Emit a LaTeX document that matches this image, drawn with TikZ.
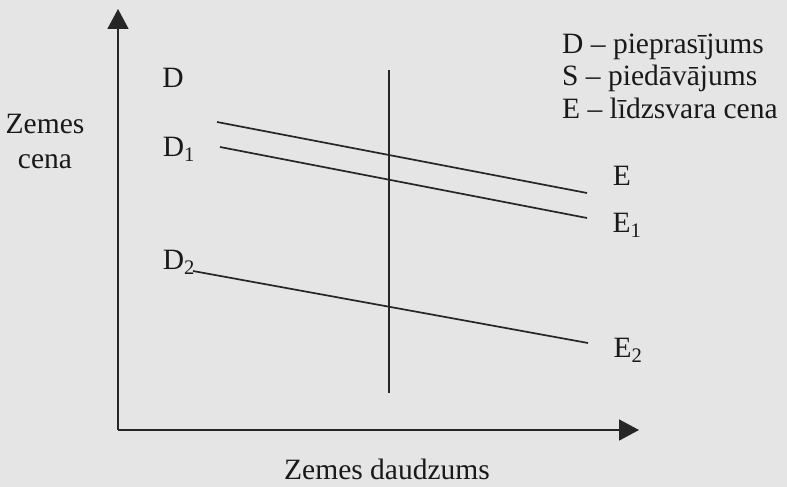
\documentclass[tikz,border=0pt]{standalone}
\usepackage{fontspec}
\setmainfont{Liberation Serif}
\usetikzlibrary{arrows.meta, positioning}

\begin{document}
\begin{tikzpicture}[x=1pt, y=-1pt,
    ink/.style={draw=black!85, line width=1.7pt},
    axis/.style={ink, -{Triangle[length=20pt, width=21pt]}},
    lbl/.style={font=\fontsize{29.5}{34}\selectfont, text=black!90, inner sep=0pt},
    legend/.style={lbl, anchor=west}]
    \fill[black!10] (0,0) rectangle (787,487);
    \useasboundingbox (0,0) rectangle (787,487);

    % axes
    \coordinate (origin) at (118,430);
    \coordinate (ytop)   at (118,9);
    \coordinate (xend)   at (639,430);
    \draw[axis] (origin) -- (ytop);
    \draw[axis] (origin) -- (xend);

    % supply
    \coordinate (stop) at (389,70);
    \coordinate (sbot) at (389,393);
    \draw[ink] (stop) -- (sbot);

    % demand curves
    \coordinate (d0) at (217,122);  \coordinate (e0) at (587,193);
    \coordinate (d1) at (220,147);  \coordinate (e1) at (587,218);
    \coordinate (d2) at (193,271);  \coordinate (e2) at (588,343);
    \draw[ink] (d0) -- (e0);
    \draw[ink] (d1) -- (e1);
    \draw[ink] (d2) -- (e2);

    % labels
    \node[lbl] (labD)  at (173,78)  {D};
    \node[lbl] (labD1) at (179,149) {D\textsubscript{1}};
    \node[lbl] (labD2) at (179,262) {D\textsubscript{2}};
    \node[lbl] (labE)  at (622,176) {E};
    \node[lbl] (labE1) at (627,225) {E\textsubscript{1}};
    \node[lbl] (labE2) at (628,350) {E\textsubscript{2}};

    \node[lbl, align=center] (price) at (45,141) {Zemes\\[1pt]cena};
    \node[lbl] (qty) at (387,469) {Zemes daudzums};

    % legend
    \node[legend] (legD) at (562,47)  {D – pieprasījums};
    \node[legend] (legS) at (562,78)  {S – piedāvājums};
    \node[legend] (legE) at (562,108) {E – līdzsvara cena};
\end{tikzpicture}
\end{document}
